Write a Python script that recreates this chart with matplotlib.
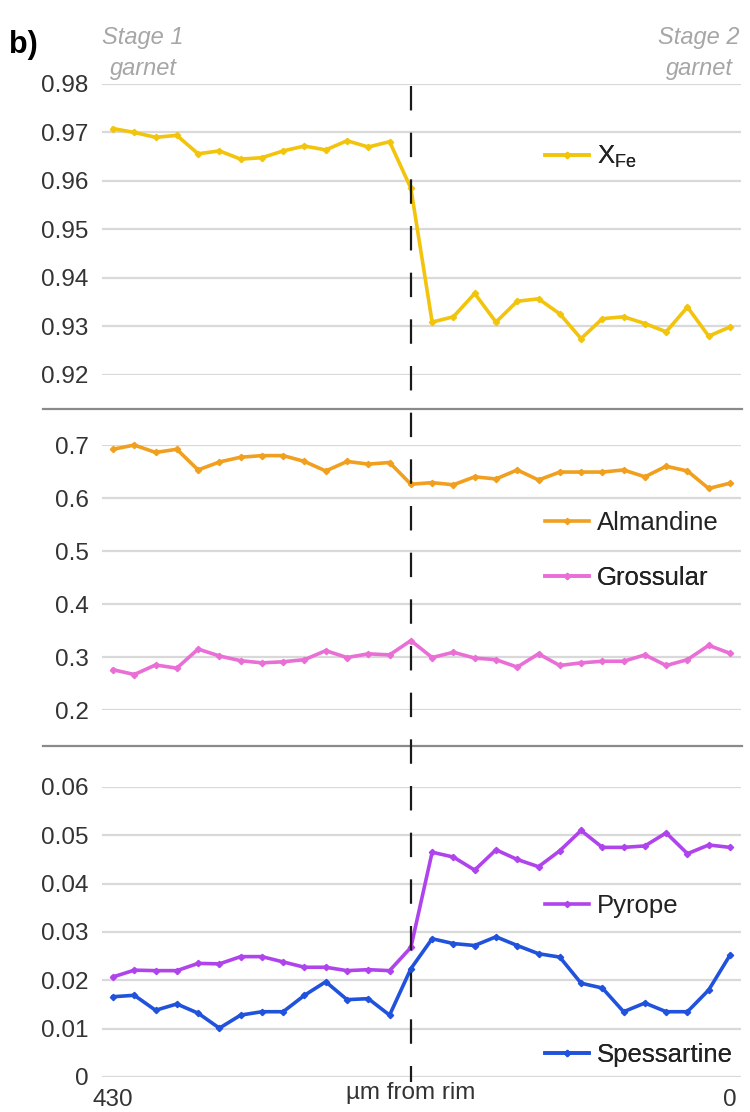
import matplotlib.pyplot as plt
import matplotlib.lines as mlines
import matplotlib.transforms as mtransforms
from matplotlib.ticker import FuncFormatter
import numpy as np

plt.rcParams['font.family'] = ['Liberation Sans', 'DejaVu Sans']
plt.rcParams['mathtext.fontset'] = 'custom'
plt.rcParams['mathtext.rm'] = 'Liberation Sans'

# Profile data (rim at right, 430 um at left)
x_fe = [0.9708, 0.9700, 0.9690, 0.9694, 0.9656, 0.9662, 0.9645, 0.9648, 0.9662, 0.9672,
        0.9664, 0.9683, 0.9670, 0.9681, 0.9585, 0.9309, 0.9320, 0.9368, 0.9309, 0.9352,
        0.9357, 0.9326, 0.9275, 0.9316, 0.9320, 0.9306, 0.9289, 0.9340, 0.9280, 0.9299]
almandine = [0.692, 0.700, 0.686, 0.692, 0.653, 0.668, 0.677, 0.680, 0.680, 0.669,
             0.651, 0.669, 0.664, 0.667, 0.626, 0.629, 0.625, 0.640, 0.636, 0.653,
             0.634, 0.649, 0.649, 0.649, 0.653, 0.640, 0.660, 0.651, 0.618, 0.628]
grossular = [0.276, 0.267, 0.285, 0.279, 0.315, 0.302, 0.293, 0.289, 0.291, 0.295,
             0.312, 0.299, 0.306, 0.304, 0.331, 0.299, 0.309, 0.298, 0.295, 0.281,
             0.306, 0.284, 0.289, 0.292, 0.292, 0.304, 0.284, 0.295, 0.322, 0.307]
pyrope = [0.0207, 0.0221, 0.0220, 0.0220, 0.0235, 0.0234, 0.0249, 0.0249, 0.0238, 0.0227,
          0.0227, 0.0220, 0.0222, 0.0220, 0.0268, 0.0465, 0.0455, 0.0428, 0.0470, 0.0450,
          0.0435, 0.0468, 0.0510, 0.0475, 0.0475, 0.0478, 0.0505, 0.0462, 0.0480, 0.0475]
spessartine = [0.0166, 0.0169, 0.0138, 0.0151, 0.0132, 0.0101, 0.0128, 0.0135, 0.0135, 0.0169,
               0.0197, 0.0160, 0.0162, 0.0128, 0.0224, 0.0286, 0.0276, 0.0272, 0.0290, 0.0272,
               0.0255, 0.0248, 0.0194, 0.0184, 0.0135, 0.0153, 0.0135, 0.0135, 0.0180, 0.0252]

fe_ticks = [0.92, 0.93, 0.94, 0.95, 0.96, 0.97, 0.98]
major_ticks = [0.2, 0.3, 0.4, 0.5, 0.6, 0.7]
minor_ticks = [0, 0.01, 0.02, 0.03, 0.04, 0.05, 0.06]
x_tick_pos = [0, 29]
x_tick_labels = ['430', '0']
boundary = 14  # stage 1 / stage 2 boundary point

pos = np.arange(len(x_fe))

fig = plt.figure(figsize=(7.5, 11.12), dpi=100)
L, W = 0.1365, 0.851
ax1 = fig.add_axes([L, 0.6628, W, 0.2617])
ax2 = fig.add_axes([L, 0.3615, W, 0.2383])
ax3 = fig.add_axes([L, 0.0315, W, 0.2608])

fmt = FuncFormatter(lambda v, p: '{:g}'.format(round(v, 4)))
for ax, ticks in [(ax1, fe_ticks), (ax2, major_ticks), (ax3, minor_ticks)]:
    ax.set_xlim(-0.5, len(x_fe) - 0.5)
    ax.set_ylim(ticks[0], ticks[-1])
    ax.set_yticks(ticks)
    ax.yaxis.set_major_formatter(fmt)
    ax.grid(axis='y', color='#d9d9d9', lw=1.6)
    ax.set_axisbelow(True)
    for s in ax.spines.values():
        s.set_visible(False)
    ax.tick_params(length=0, labelsize=17.5, labelcolor='#333333', pad=10)
    ax.set_xticks([])

kw = dict(lw=2.6, marker='D', ms=3.2, clip_on=False)
l_fe, = ax1.plot(pos, x_fe, color='#F2C40C', **kw)
l_alm, = ax2.plot(pos, almandine, color='#F0A01E', **kw)
l_gro, = ax2.plot(pos, grossular, color='#E96FD6', **kw)
l_pyr, = ax3.plot(pos, pyrope, color='#B044EC', **kw)
l_sps, = ax3.plot(pos, spessartine, color='#2052DC', **kw)

ax3.set_xticks(x_tick_pos)
ax3.set_xticklabels(x_tick_labels)
ax3.tick_params(axis='x', pad=9)
ax3.set_xlabel('µm from rim', fontsize=17.5, color='#333333')
ax3.xaxis.set_label_coords((boundary + 0.5) / len(x_fe), -0.056)
ax3.xaxis.label.set_va('center')


def add_key(ax, line, label, y):
    leg = ax.legend([line], [label], loc='center left', bbox_to_anchor=(0.694, y),
                    frameon=False, fontsize=18.5, handlelength=1.7, handletextpad=0.3,
                    borderaxespad=0, borderpad=0, labelcolor='#222222')
    ax.add_artist(leg)


add_key(ax1, l_fe, r'X$_{\rm Fe}$', 0.749)
add_key(ax2, l_alm, 'Almandine', 0.706)
add_key(ax2, l_gro, 'Grossular', 0.498)
add_key(ax3, l_pyr, 'Pyrope', 0.590)
add_key(ax3, l_sps, 'Spessartine', 0.076)

# separators between panels
for yy in [1 - 409 / 1112, 1 - 746 / 1112]:
    fig.add_artist(mlines.Line2D([0.057, 0.989], [yy, yy], color='#8a8a8a', lw=1.6))

# stage boundary
trans = mtransforms.blended_transform_factory(ax1.transData, fig.transFigure)
fig.add_artist(mlines.Line2D([boundary, boundary], [1 - 86 / 1112, 1 - 1082 / 1112],
                             transform=trans, color='#1a1a1a', lw=1.6, ls=(0, (11, 10))))

# header
fig.text(0.012, 1 - 45 / 1112, 'b)', fontsize=22, fontweight='bold', va='center')
fig.text(0.191, 1 - 53 / 1112, 'Stage 1\ngarnet', fontsize=17, style='italic',
         color='#a6a6a6', ha='center', va='center', linespacing=1.4)
fig.text(0.932, 1 - 53 / 1112, 'Stage 2\ngarnet', fontsize=17, style='italic',
         color='#a6a6a6', ha='center', va='center', linespacing=1.4)

fig.savefig('out.png', dpi=100)
